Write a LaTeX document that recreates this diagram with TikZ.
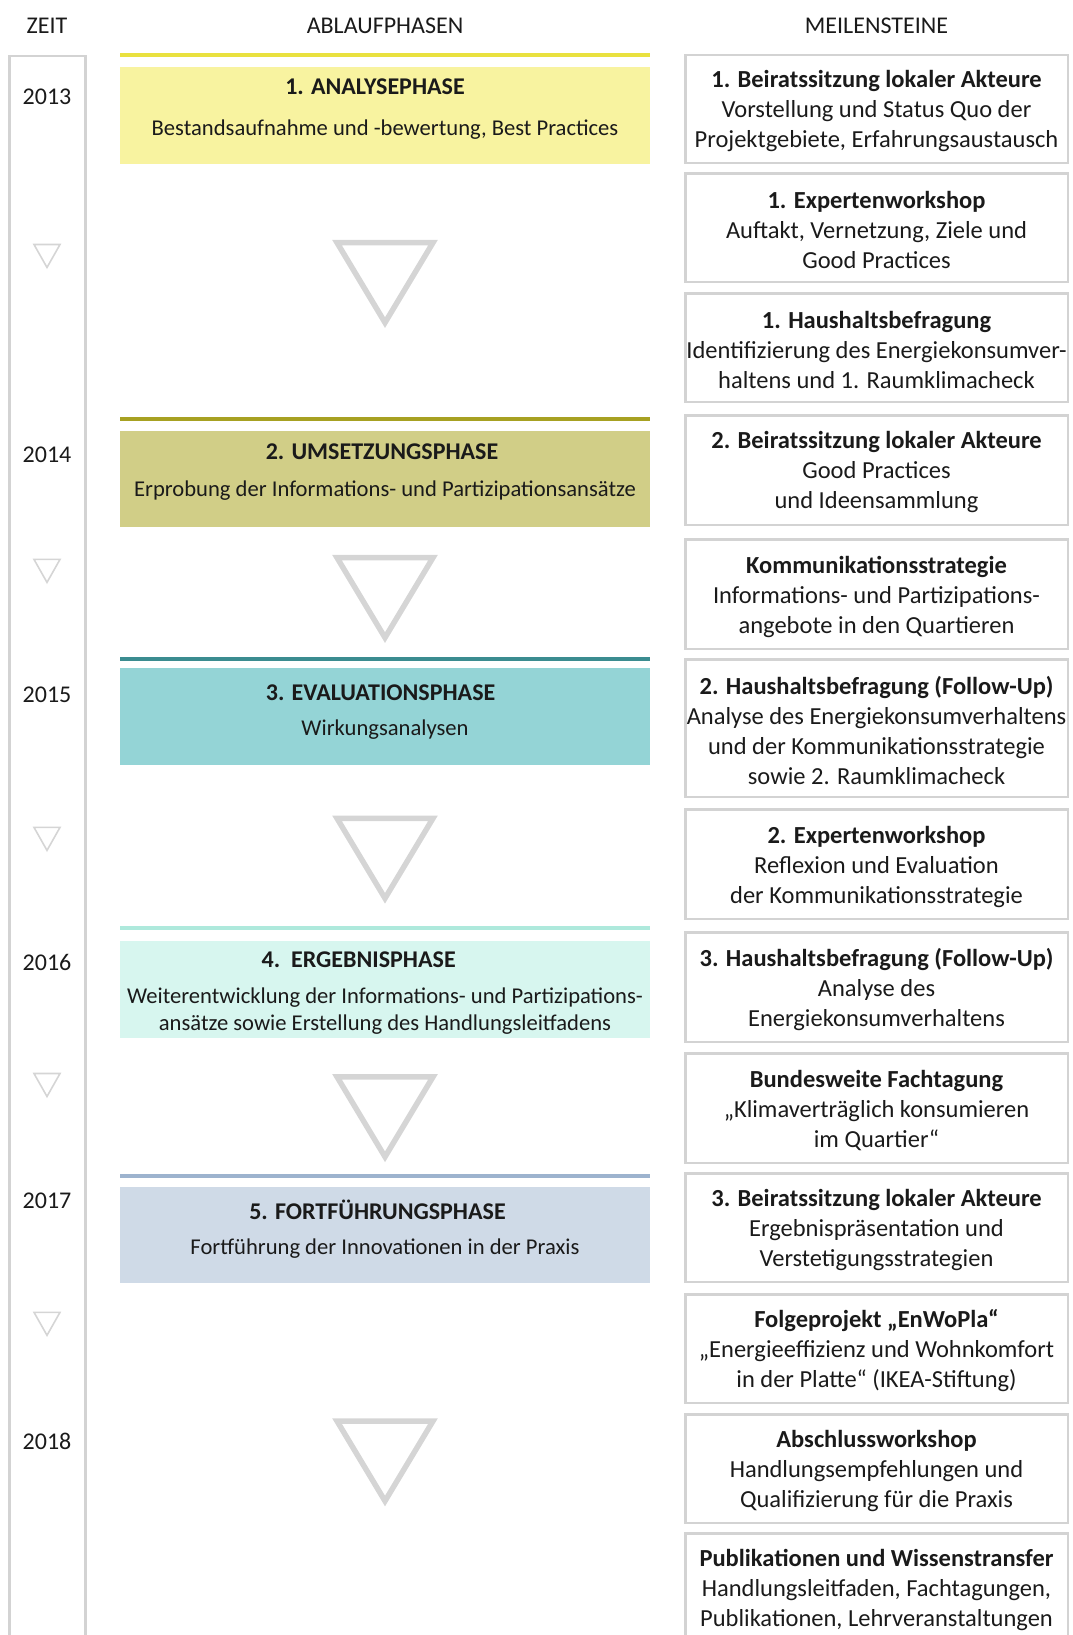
\documentclass[tikz,border=0pt]{standalone}
\usepackage{fontspec}
\setmainfont{Carlito}
\definecolor{txt}{HTML}{1A1A1A}
\definecolor{gr}{HTML}{D3D3D3}
\definecolor{trig}{HTML}{D5D5D5}
\definecolor{barA}{HTML}{E9E13F}
\definecolor{fillA}{HTML}{F8F3A0}
\definecolor{barB}{HTML}{A7A122}
\definecolor{fillB}{HTML}{D1CE87}
\definecolor{barC}{HTML}{3B8C90}
\definecolor{fillC}{HTML}{94D4D6}
\definecolor{barD}{HTML}{AEE9DC}
\definecolor{fillD}{HTML}{D7F6EF}
\definecolor{barE}{HTML}{9DB3CE}
\definecolor{fillE}{HTML}{CFDAE7}
\newcommand\milestone[5]{%
  \node[msbox, minimum height=#3] (#1) at (876.5,#2) {};
  \node[mstext] (#1t) at (#1.center) {\textbf{#4}\\#5};
}
\begin{document}
\begin{tikzpicture}[x=1pt,y=-1pt,
  hdr/.style={font=\fontsize{24}{29}\selectfont, text=txt, inner sep=0pt},
  yearlbl/.style={font=\fontsize{24}{29}\selectfont, text=txt, inner sep=0pt},
  msbox/.style={draw=gr, line width=2.5pt, minimum width=382.5pt, inner sep=0pt},
  mstext/.style={align=center, font=\fontsize{24.5}{30}\selectfont, text=txt, inner sep=0pt, yshift=-2.5pt},
  ptitle/.style={font=\fontsize{24}{29}\selectfont\bfseries, text=txt, inner sep=0pt},
  psub/.style={align=center, font=\fontsize{22.6}{27}\selectfont, text=txt, inner sep=0pt, yshift=-2.5pt},
  pbar/.style={line width=4pt},
  bigtri/.style={draw=trig, line width=5.5pt, line join=miter},
  smalltri/.style={draw=trig, line width=1.6pt, line join=miter},
]
\useasboundingbox (0,0) rectangle (1073,1635);
\clip (0,0) rectangle (1073,1635);

% headers
\node[hdr] (hzeit) at (47,26) {ZEIT};
\node[hdr] (habl) at (385,26) {ABLAUFPHASEN};
\node[hdr] (hmei) at (876.5,26) {MEILENSTEINE};

% time column
\draw[gr, line width=2.5pt] (9.5,56) rectangle (85.5,1700);
\node[yearlbl] (y2013) at (47,97) {2013};
\node[yearlbl] (y2014) at (47,455) {2014};
\node[yearlbl] (y2015) at (47,694.5) {2015};
\node[yearlbl] (y2016) at (47,962.5) {2016};
\node[yearlbl] (y2017) at (47,1201) {2017};
\node[yearlbl] (y2018) at (47,1441) {2018};
\foreach \yy in {255.5,570.4,838.4,1084.5,1323.3}{
  \draw[smalltri] (47-13,\yy-11) -- (47+13,\yy-11) -- (47,\yy+12) -- cycle;
}

% phases
\draw[pbar, barA] (120,55) -- (650,55);
\node[fill=fillA, minimum width=530pt, minimum height=97pt, inner sep=0pt] (p1) at (385,115.5) {};
\node[ptitle] (p1t) at (375,86.5) {1. ANALYSEPHASE};
\node[psub] (p1s) at (385,127) {Bestandsaufnahme und -bewertung, Best Practices};

\draw[pbar, barB] (120,419.2) -- (650,419.2);
\node[fill=fillB, minimum width=530pt, minimum height=96pt, inner sep=0pt] (p2) at (385,479) {};
\node[ptitle] (p2t) at (382,451.5) {2. UMSETZUNGSPHASE};
\node[psub] (p2s) at (385,488) {Erprobung der Informations- und Partizipationsansätze};

\draw[pbar, barC] (120,659) -- (650,659);
\node[fill=fillC, minimum width=530pt, minimum height=97pt, inner sep=0pt] (p3) at (385,716.5) {};
\node[ptitle] (p3t) at (380.6,692.4) {3. EVALUATIONSPHASE};
\node[psub] (p3s) at (385,726.8) {Wirkungsanalysen};

\draw[pbar, barD] (120,928) -- (650,928);
\node[fill=fillD, minimum width=530pt, minimum height=97pt, inner sep=0pt] (p4) at (385,989.5) {};
\node[ptitle] (p4t) at (358.7,959.3) {4.\hspace{0.45em}ERGEBNISPHASE};
\node[psub] (p4s) at (385,1008.4) {Weiterentwicklung der Informations- und Partizipations-\\ansätze sowie Erstellung des Handlungsleitfadens};

\draw[pbar, barE] (120,1176.3) -- (650,1176.3);
\node[fill=fillE, minimum width=530pt, minimum height=96pt, inner sep=0pt] (p5) at (385,1235) {};
\node[ptitle] (p5t) at (377.5,1209.6) {5. FORTFÜHRUNGSPHASE};
\node[psub] (p5s) at (385,1246) {Fortführung der Innovationen in der Praxis};

% big triangles
\foreach \yy in {282.6,597.6,858.3,1116.8,1461}{
  \draw[bigtri] (385-48,\yy-40) -- (385+48,\yy-40) -- (385,\yy+40) -- cycle;
}

% milestones
\milestone{m1}{109}{107.5pt}{1. Beiratssitzung lokaler Akteure}{Vorstellung und Status Quo der\\Projektgebiete, Erfahrungsaustausch}
\milestone{m2}{227.5}{108.5pt}{1. Expertenworkshop}{Auftakt, Vernetzung, Ziele und\\Good Practices}
\milestone{m3}{347.5}{108.5pt}{1. Haushaltsbefragung}{Identifizierung des Energiekonsumver-\\haltens und 1. Raumklimacheck}
\milestone{m4}{470}{109.5pt}{2. Beiratssitzung lokaler Akteure}{Good Practices\\und Ideensammlung}
\milestone{m5}{594}{109.5pt}{Kommunikationsstrategie}{Informations- und Partizipations-\\angebote in den Quartieren}
\milestone{m6}{728}{137.5pt}{2. Haushaltsbefragung (Follow-Up)}{Analyse des Energiekonsumverhaltens\\und der Kommunikationsstrategie\\sowie 2. Raumklimacheck}
\milestone{m7}{864}{109.5pt}{2. Expertenworkshop}{Reflexion und Evaluation\\der Kommunikationsstrategie}
\milestone{m8}{987}{109.5pt}{3. Haushaltsbefragung (Follow-Up)}{Analyse des\\Energiekonsumverhaltens}
\milestone{m9}{1108}{109.5pt}{Bundesweite Fachtagung}{„Klimaverträglich konsumieren\\im Quartier“}
\milestone{m10}{1227.5}{108.5pt}{3. Beiratssitzung lokaler Akteure}{Ergebnispräsentation und\\Verstetigungsstrategien}
\milestone{m11}{1348.5}{108.5pt}{Folgeprojekt „EnWoPla“}{„Energieeffizienz und Wohnkomfort\\in der Platte“ (IKEA-Stiftung)}
\milestone{m12}{1468.5}{108.5pt}{Abschlussworkshop}{Handlungsempfehlungen und\\Qualifizierung für die Praxis}
\milestone{m13}{1587.5}{108.5pt}{Publikationen und Wissenstransfer}{Handlungsleitfaden, Fachtagungen,\\Publikationen, Lehrveranstaltungen}
\end{tikzpicture}
\end{document}
